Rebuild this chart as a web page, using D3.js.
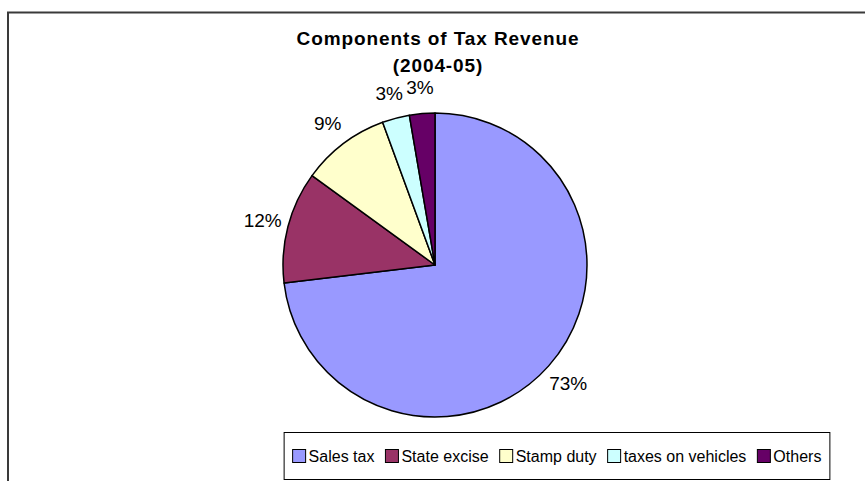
<!DOCTYPE html>
<html>
<head>
<meta charset="utf-8">
<script src="https://cdn.jsdelivr.net/npm/d3@7"></script>
<style>
  body { margin: 0; background: #fff; }
  text { font-family: Arial, "Liberation Sans", sans-serif; }
</style>
</head>
<body>
<script>
// Components of Tax Revenue (2004-05)

const categories = ["Sales tax", "State excise", "Stamp duty", "taxes on vehicles", "Others"];
const shares     = [73.1, 11.9, 9.4, 2.9, 2.7];
const colors     = ["#9999FF", "#993366", "#FFFFCC", "#CCFFFF", "#660066"];
const titleLines = ["Components of Tax Revenue", "(2004-05)"];

const width  = 865;
const height = 481;

const cx = 435, cy = 265, radius = 152;
const labelRadius = radius + 26;

const svg = d3.select("body").append("svg")
  .attr("width", width)
  .attr("height", height);

// 外框
svg.append("rect")
  .attr("x", 8)
  .attr("y", 12.5)
  .attr("width", width)
  .attr("height", height)
  .attr("fill", "#fff")
  .attr("stroke", "#3a3a3a")
  .attr("stroke-width", 2);

// 标题
svg.append("text")
  .attr("x", 438)
  .attr("y", 45)
  .attr("text-anchor", "middle")
  .style("font-size", "19px")
  .style("font-weight", "bold")
  .style("letter-spacing", "0.9px")
  .selectAll("tspan")
  .data(titleLines)
  .enter().append("tspan")
  .attr("x", 438)
  .attr("dy", (d, i) => i === 0 ? 0 : 27)
  .text(d => d);

const data = categories.map((c, i) => ({ name: c, value: shares[i], color: colors[i] }));

const pie = d3.pie()
  .sort(null)
  .value(d => d.value);

const arc = d3.arc()
  .innerRadius(0)
  .outerRadius(radius);

const labelArc = d3.arc()
  .innerRadius(labelRadius)
  .outerRadius(labelRadius);

const arcs = pie(data);

const g = svg.append("g")
  .attr("transform", `translate(${cx},${cy})`);

g.selectAll("path")
  .data(arcs)
  .enter().append("path")
  .attr("d", arc)
  .attr("fill", d => d.data.color)
  .attr("stroke", "#000")
  .attr("stroke-width", 1.5)
  .attr("stroke-linejoin", "round");

g.selectAll(".lbl")
  .data(arcs)
  .enter().append("text")
  .attr("class", "lbl")
  .attr("transform", d => `translate(${labelArc.centroid(d)})`)
  .attr("text-anchor", "middle")
  .attr("dy", "0.36em")
  .style("font-size", "19px")
  .attr("fill", "#000")
  .text(d => Math.round(d.data.value) + "%");

// 图例
const legend = svg.append("g");
const legendY = 456;
const sw = 13;
const itemGap = 11;

const items = legend.selectAll(".item")
  .data(data)
  .enter().append("g")
  .attr("class", "item");

items.append("rect")
  .attr("width", sw)
  .attr("height", sw)
  .attr("y", -sw / 2)
  .attr("fill", d => d.color)
  .attr("stroke", "#000")
  .attr("stroke-width", 1);

items.append("text")
  .attr("x", sw + 3)
  .attr("dy", "0.36em")
  .style("font-size", "16px")
  .text(d => d.name);

let xPos = 0;
items.each(function() {
  const w = this.getBBox().width;
  d3.select(this).attr("transform", `translate(${xPos},0)`);
  xPos += w + itemGap;
});
const legendW = xPos - itemGap;
const legendX = 557 - legendW / 2;
legend.attr("transform", `translate(${legendX},${legendY})`);

legend.insert("rect", ":first-child")
  .attr("x", -8.5)
  .attr("y", 432.5 - legendY)
  .attr("width", legendW + 17)
  .attr("height", 47)
  .attr("fill", "#fff")
  .attr("stroke", "#000")
  .attr("stroke-width", 1);
</script>
</body>
</html>
